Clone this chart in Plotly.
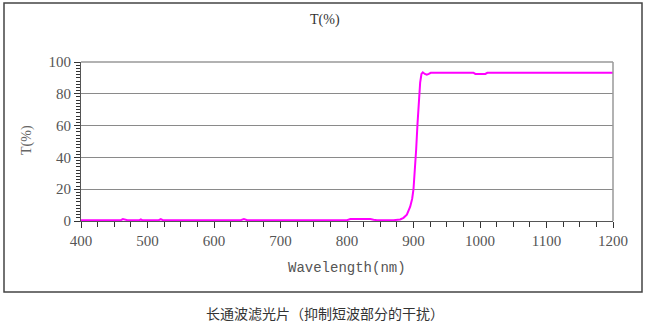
import plotly.graph_objects as go

# Data
wavelength = [400, 460, 463, 467, 470, 488, 490, 492, 517, 520, 523, 640, 645, 650,
              800, 805, 820, 835, 840, 845, 870, 880, 885, 890, 895, 898, 900, 902,
              904, 906, 908, 910, 912, 914, 917, 920, 923, 926, 930, 960, 990, 993,
              1008, 1011, 1050, 1100, 1150, 1200]
transmission = [0.5, 0.5, 1.2, 0.8, 0.5, 0.5, 1.0, 0.5, 0.5, 1.2, 0.5, 0.5, 1.2, 0.5,
                0.5, 1.2, 1.3, 1.2, 0.8, 0.5, 0.5, 1.0, 2.0, 4.0, 9.0, 14.0, 20.0, 30.0,
                45.0, 61.0, 76.0, 87.0, 92.5, 93.5, 92.5, 92.0, 92.5, 93.2, 93.3, 93.3, 93.3, 92.5,
                92.5, 93.2, 93.3, 93.3, 93.3, 93.3]
x_range = [400, 1200]
x_major, x_minor = 100, 25
y_range = [0, 100]
y_major, y_minor = 20, 2

chart_title = "T(%)"
x_title = "Wavelength(nm)"
y_title = "T(%)"
caption = "长通波滤光片（抑制短波部分的干扰）"

serif = "Liberation Serif, DejaVu Serif, serif"
cjk = "Noto Sans CJK SC, sans-serif"

fig = go.Figure()
fig.add_trace(go.Scatter(x=wavelength, y=transmission, mode="lines",
                         line=dict(color="#ff00ff", width=2), showlegend=False))

W, H = 650, 326
L, R, T, B = 81, 37, 62, 105
pw, ph = W - L - R, H - T - B

def px(x):
    return (x - L) / pw

def py(y):
    return (H - B - y) / ph

def ann(text, x, y, font, angle=0):
    return dict(text=text, xref="paper", yref="paper", x=px(x), y=py(y),
                xanchor="center", yanchor="middle", showarrow=False,
                textangle=angle, font=font)

fig.update_layout(
    width=W, height=H,
    margin=dict(l=L, r=R, t=T, b=B),
    paper_bgcolor="white", plot_bgcolor="white",
    xaxis=dict(range=x_range, tickmode="linear", tick0=x_range[0], dtick=x_major,
               ticks="outside", ticklen=6, tickwidth=1,
               tickcolor="#333", showline=True, linecolor="#555", linewidth=1,
               showgrid=False, zeroline=False,
               tickfont=dict(family=serif, size=15, color="#555"),
               minor=dict(dtick=x_minor, tick0=x_range[0], ticks="outside", ticklen=5,
                          tickwidth=1, tickcolor="#333", showgrid=False)),
    yaxis=dict(range=y_range, tickmode="linear", tick0=y_range[0], dtick=y_major,
               ticks="outside", ticklen=6, tickwidth=1,
               tickcolor="#333", showline=True, linecolor="#555", linewidth=1,
               showgrid=True, gridcolor="#8a8a8a", gridwidth=1, zeroline=False,
               tickfont=dict(family=serif, size=15, color="#555"),
               minor=dict(dtick=y_minor, tick0=y_range[0], ticks="outside", ticklen=4,
                          tickwidth=1, tickcolor="#333", showgrid=False)),
    shapes=[
        dict(type="line", xref="paper", yref="paper", x0=1, x1=1, y0=0, y1=1,
             line=dict(color="#999", width=1.5)),
        dict(type="line", xref="paper", yref="paper", x0=0, x1=1, y0=1, y1=1,
             line=dict(color="#999", width=1.5)),
        dict(type="rect", xref="paper", yref="paper",
             x0=px(4), x1=px(642), y0=py(292), y1=py(3),
             line=dict(color="#444", width=1.5), fillcolor="rgba(0,0,0,0)", layer="below"),
    ],
    annotations=[
        ann(chart_title, 325, 20, dict(family=serif, size=14, color="#333")),
        ann(x_title, 347, 268, dict(family="Liberation Mono, monospace", size=14, color="#555")),
        ann(y_title, 27, 140, dict(family=serif, size=14, color="#666"), angle=-90),
        ann(caption, 325, 313, dict(family=cjk, size=14, color="#333")),
    ],
)

fig.write_html("out.html")
